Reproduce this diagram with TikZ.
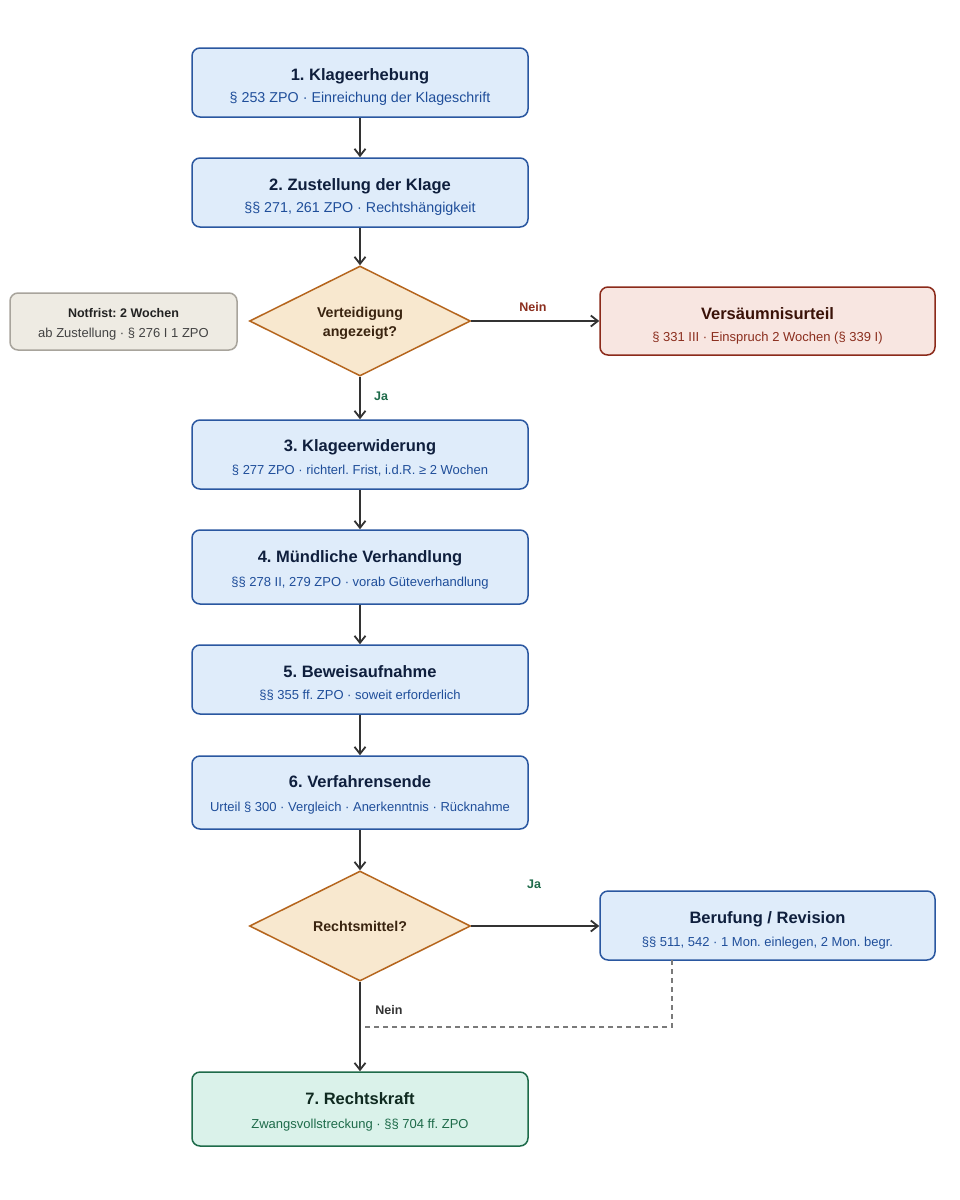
\documentclass[tikz,border=0pt]{standalone}
\usepackage{fontspec}
\setmainfont{Liberation Sans}
\usetikzlibrary{arrows.meta,shapes.geometric,calc}
\definecolor{bfill}{HTML}{DFECFA}
\definecolor{bdraw}{HTML}{2A57A0}
\definecolor{btitle}{HTML}{0F1F3D}
\definecolor{bsub}{HTML}{1F4E9A}
\definecolor{dfill}{HTML}{F8E8CF}
\definecolor{ddraw}{HTML}{B5651D}
\definecolor{dtext}{HTML}{3A2410}
\definecolor{nfill}{HTML}{EEEBE3}
\definecolor{ndraw}{HTML}{A8A49C}
\definecolor{ntext}{HTML}{222222}
\definecolor{rfill}{HTML}{F8E6E1}
\definecolor{rdraw}{HTML}{8B2A1A}
\definecolor{rtitle}{HTML}{3A1208}
\definecolor{rsub}{HTML}{8B2E1E}
\definecolor{gfill}{HTML}{DAF2EA}
\definecolor{gdraw}{HTML}{1E6B4A}
\definecolor{gtitle}{HTML}{0F2A20}
\definecolor{gsub}{HTML}{1E6B4A}
\definecolor{arr}{HTML}{333333}
\frenchspacing
\begin{document}
\frenchspacing
\begin{tikzpicture}[x=1pt,y=-1pt,
  boxbase/.style={rectangle,rounded corners=8pt,line width=1.5pt,inner sep=0pt},
  bluebox/.style={boxbase,fill=bfill,draw=bdraw},
  redbox/.style={boxbase,fill=rfill,draw=rdraw},
  greenbox/.style={boxbase,fill=gfill,draw=gdraw},
  notebox/.style={boxbase,fill=nfill,draw=ndraw},
  decision/.style={diamond,fill=dfill,draw=ddraw,line width=1.5pt,inner sep=0pt,
    minimum width=221pt,minimum height=110pt},
  dtxt/.style={anchor=base,inner sep=0pt,text=dtext,font=\fontsize{14.2}{19}\selectfont\bfseries},
  ttl/.style={anchor=base,inner sep=0pt,font=\fontsize{16.5}{20}\selectfont\bfseries},
  subl/.style={anchor=base,inner sep=0pt,font=\fontsize{14.3}{17}\selectfont},
  subs/.style={anchor=base,inner sep=0pt,font=\fontsize{13}{16}\selectfont},
  lbl/.style={anchor=base,inner sep=0pt,font=\fontsize{12.5}{15}\selectfont\bfseries},
  flow/.style={draw=arr,line width=2pt,-{Straight Barb[length=7pt,width=11pt,line width=1.8pt]}},
  back/.style={draw=arr!65,line width=1.8pt,dash pattern=on 5pt off 4pt}
]
\fill[white] (0,0) rectangle (960,1200);
\useasboundingbox (0,0) rectangle (960,1200);

% main boxes
\node[bluebox,minimum width=336pt,minimum height=69pt] (b1) at (360,82.5) {};
\node[ttl,text=btitle] (b1t) at (360,80) {1. Klageerhebung};
\node[subl,text=bsub] (b1s) at (360,102.5) {§ 253 ZPO · Einreichung der Klageschrift};

\node[bluebox,minimum width=336pt,minimum height=69pt] (b2) at (360,192.5) {};
\node[ttl,text=btitle] (b2t) at (360,190) {2. Zustellung der Klage};
\node[subl,text=bsub] (b2s) at (360,212.5) {§§ 271, 261 ZPO · Rechtshängigkeit};

\node[decision] (d1) at (360,321) {};
\node[dtxt] (d1a) at (360,317) {Verteidigung};
\node[dtxt] (d1b) at (360,336) {angezeigt?};

\node[notebox,minimum width=227pt,minimum height=57pt] (nf) at (123.5,321.5) {};
\node[anchor=base,inner sep=0pt,text=ntext,font=\fontsize{12.5}{15}\selectfont\bfseries] (nft) at (123.5,317.5) {Notfrist: 2 Wochen};
\node[subs,text=ntext!85] (nfs) at (123.5,337) {ab Zustellung · § 276 I 1 ZPO};

\node[redbox,minimum width=335pt,minimum height=68pt] (vu) at (767.5,321) {};
\node[ttl,text=rtitle] (vut) at (767.5,319) {Versäumnisurteil};
\node[subs,text=rsub] (vus) at (767.5,341) {§ 331 III · Einspruch 2 Wochen (§ 339 I)};

\node[bluebox,minimum width=336pt,minimum height=69pt] (b3) at (360,454.5) {};
\node[ttl,text=btitle] (b3t) at (360,451) {3. Klageerwiderung};
\node[subs,text=bsub] (b3s) at (360,474) {§ 277 ZPO · richterl. Frist, i.d.R. ≥ 2 Wochen};

\node[bluebox,minimum width=336pt,minimum height=74pt] (b4) at (360,567) {};
\node[ttl,text=btitle] (b4t) at (360,562) {4. Mündliche Verhandlung};
\node[subs,text=bsub] (b4s) at (360,586) {§§ 278 II, 279 ZPO · vorab Güteverhandlung};

\node[bluebox,minimum width=336pt,minimum height=69pt] (b5) at (360,679.5) {};
\node[ttl,text=btitle] (b5t) at (360,677) {5. Beweisaufnahme};
\node[subs,text=bsub] (b5s) at (360,699) {§§ 355 ff. ZPO · soweit erforderlich};

\node[bluebox,minimum width=336pt,minimum height=73pt] (b6) at (360,792.5) {};
\node[ttl,text=btitle] (b6t) at (360,787) {6. Verfahrensende};
\node[subs,text=bsub] (b6s) at (360,811) {Urteil § 300 · Vergleich · Anerkenntnis · Rücknahme};

\node[decision] (d2) at (360,926) {};
\node[dtxt] (d2a) at (360,931) {Rechtsmittel?};

\node[bluebox,minimum width=335pt,minimum height=69pt] (bv) at (767.5,925.5) {};
\node[ttl,text=btitle] (bvt) at (767.5,923) {Berufung / Revision};
\node[subs,text=bsub] (bvs) at (767.5,946) {§§ 511, 542 · 1 Mon. einlegen, 2 Mon. begr.};

\node[greenbox,minimum width=336pt,minimum height=74pt] (b7) at (360,1109) {};
\node[ttl,text=gtitle] (b7t) at (360,1104) {7. Rechtskraft};
\node[subs,text=gsub] (b7s) at (360,1128) {Zwangsvollstreckung · §§ 704 ff. ZPO};

% connectors
\draw[flow] (b1) -- (b2);
\draw[flow] (b2) -- (d1.north);
\draw[flow] (d1.east) -- (d1.east -| vu.west);
\draw[flow] (d1.south) -- (b3.north);
\draw[flow] (b3) -- (b4);
\draw[flow] (b4) -- (b5);
\draw[flow] (b5) -- (b6);
\draw[flow] (b6) -- (d2.north);
\draw[flow] (d2.east) -- (d2.east -| bv.west);
\draw[flow] (d2.south) -- (b7.north);

\coordinate (dstart) at (672,960);
\coordinate (dend) at (364,1027);
\draw[back] (dstart) |- (dend);

% labels
\node[lbl,text=rsub] (lnein1) at (533,311.5) {Nein};
\node[lbl,text=gdraw] (lja1) at (381,400.5) {Ja};
\node[lbl,text=gdraw] (lja2) at (534,888.5) {Ja};
\node[lbl,text=arr] (lnein2) at (389,1014.5) {Nein};
\end{tikzpicture}
\end{document}
